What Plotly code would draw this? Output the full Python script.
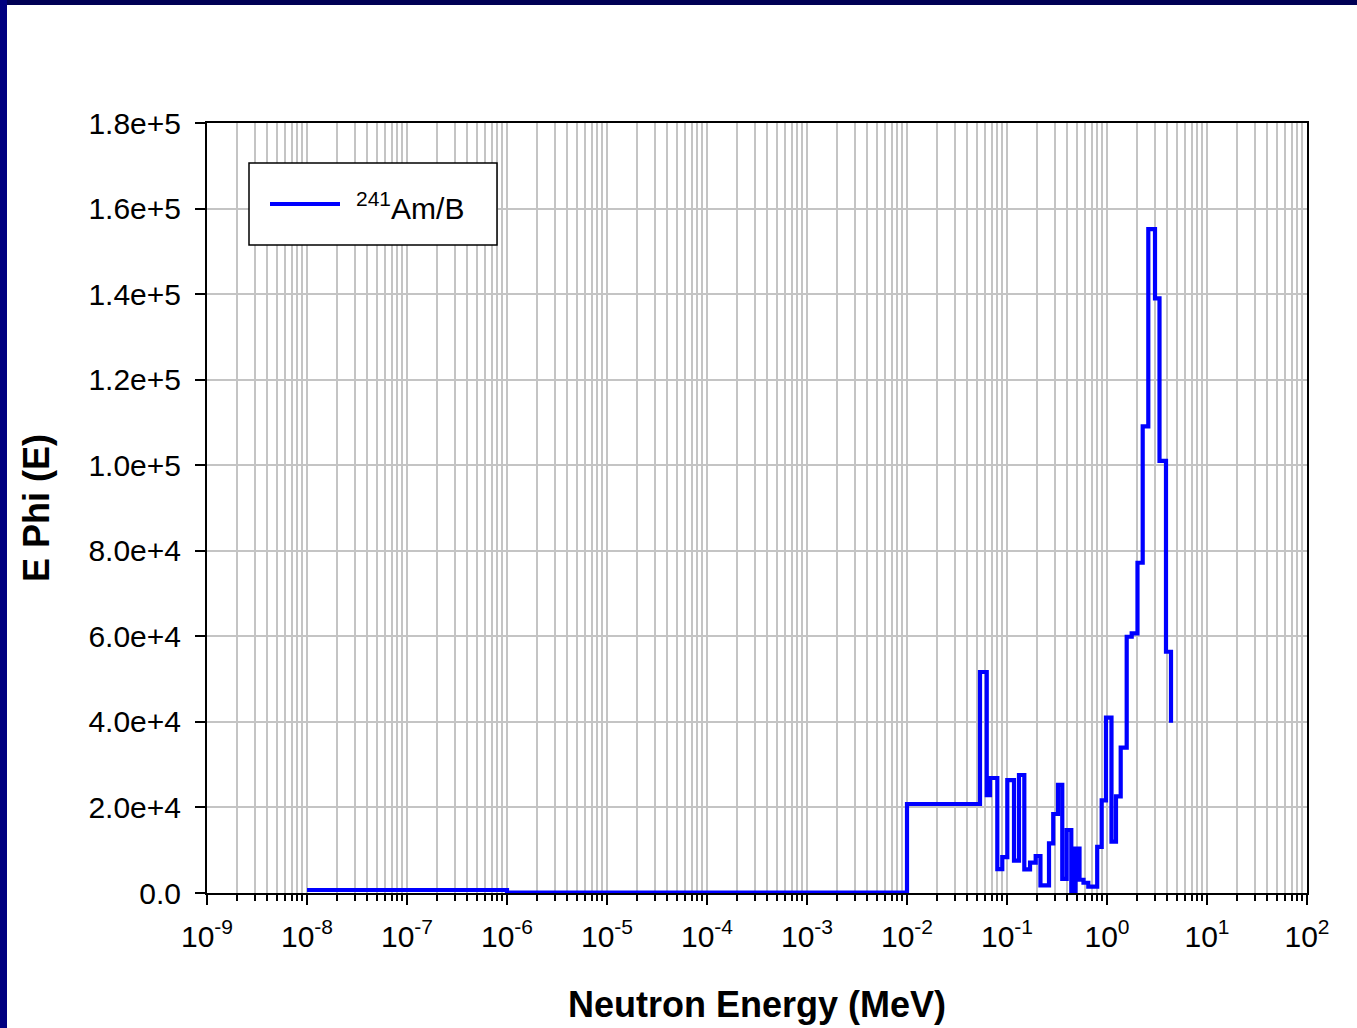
import plotly.graph_objects as go

# ---- data ----
energy_mev = [1e-8, 1e-6, 1e-2, 0.0537, 0.0627, 0.0676, 0.0800, 0.0897, 0.1007,
              0.1175, 0.1318, 0.149, 0.170, 0.1936, 0.216, 0.263, 0.290, 0.3236,
              0.357, 0.395, 0.4395, 0.484, 0.531, 0.582, 0.650, 0.798, 0.885,
              0.977, 1.109, 1.230, 1.371, 1.574, 1.766, 2.018, 2.275, 2.588,
              3.020, 3.350, 3.890, 4.365]
ephi = [700, 100, 20800, 51660, 22900, 26880, 5600, 8400, 26400,
        7550, 27580, 5540, 7090, 8650, 1800, 11600, 18470, 25300,
        3300, 14730, 400, 10400, 3100, 2400, 1470, 10800, 21650,
        41000, 12000, 22600, 34000, 59900, 60700, 77200, 109100, 155200,
        139000, 101000, 56400, 39800]
series_name = "<sup>241</sup>Am/B"

x_tickvals = [1e-9, 1e-8, 1e-7, 1e-6, 1e-5, 1e-4, 1e-3, 1e-2, 1e-1, 1e0, 1e1, 1e2]
x_ticktext = ["10<sup>-9</sup>", "10<sup>-8</sup>", "10<sup>-7</sup>", "10<sup>-6</sup>",
              "10<sup>-5</sup>", "10<sup>-4</sup>", "10<sup>-3</sup>", "10<sup>-2</sup>",
              "10<sup>-1</sup>", "10<sup>0</sup>", "10<sup>1</sup>", "10<sup>2</sup>"]
y_tickvals = [0, 20000, 40000, 60000, 80000, 100000, 120000, 140000, 160000, 180000]
y_ticktext = ["0.0", "2.0e+4", "4.0e+4", "6.0e+4", "8.0e+4", "1.0e+5",
              "1.2e+5", "1.4e+5", "1.6e+5", "1.8e+5"]

# ---- layout geometry ----
W, H = 1357, 1028
L, R, T, B = 207, 50, 123, 135
PW, PH = W - L - R, H - T - B


def px(xp):
    return (xp - L) / PW


def py(yp):
    return (H - B - yp) / PH


minor_vals = [k * 10.0 ** d for d in range(-9, 2) for k in range(2, 10)]

FONT = "Arial, Liberation Sans, sans-serif"
GRID = "#c4c4c4"
TICK_SIZE = 30
TITLE_SIZE = 36
LINE_W = 4.2

fig = go.Figure()
fig.add_trace(go.Scatter(
    x=energy_mev, y=ephi, mode="lines", line=dict(color="#0000ff", width=LINE_W, shape="hv"),
    name=series_name, showlegend=False, cliponaxis=False,
))

fig.update_layout(
    width=W, height=H,
    margin=dict(l=L, r=R, t=T, b=B, autoexpand=False),
    paper_bgcolor="white", plot_bgcolor="white",
    font=dict(family=FONT, color="black", size=TICK_SIZE),
    xaxis=dict(
        type="log", range=[-9, 2], automargin=False,
        tickmode="array", tickvals=x_tickvals, ticktext=x_ticktext,
        ticks="outside", ticklen=10, tickwidth=2, tickcolor="black",
        showline=True, linecolor="black", linewidth=2, mirror=True,
        showgrid=True, gridcolor=GRID, gridwidth=2,
        minor=dict(tickmode="array", tickvals=minor_vals, ticks="outside", ticklen=6,
                   tickwidth=2, tickcolor="black", showgrid=True, gridcolor=GRID, gridwidth=2),
        tickfont=dict(size=TICK_SIZE, family=FONT), ticklabelstandoff=6,
        title=dict(text="<b>Neutron Energy (MeV)</b>", font=dict(size=TITLE_SIZE, family=FONT),
                   standoff=40),
        layer="below traces", zeroline=False,
    ),
    yaxis=dict(
        range=[0, 180000], automargin=False,
        tickmode="array", tickvals=y_tickvals, ticktext=y_ticktext,
        ticks="outside", ticklen=10, tickwidth=2, tickcolor="black",
        showline=True, linecolor="black", linewidth=2, mirror=True,
        showgrid=True, gridcolor=GRID, gridwidth=2,
        tickfont=dict(size=TICK_SIZE, family=FONT), ticklabelstandoff=8,
        title=dict(text="<b>E Phi (E)</b>", font=dict(size=TITLE_SIZE, family=FONT), standoff=28),
        layer="below traces", zeroline=False,
    ),
)

# navy slide frame (top and left)
fig.add_shape(type="rect", xref="paper", yref="paper", x0=px(0), x1=px(W), y0=py(5), y1=py(0),
              fillcolor="#000055", line=dict(width=0), layer="above")
fig.add_shape(type="rect", xref="paper", yref="paper", x0=px(0), x1=px(7), y0=py(H), y1=py(0),
              fillcolor="#000080", line=dict(width=0), layer="above")

# legend box
fig.add_shape(type="rect", xref="paper", yref="paper", x0=px(249), x1=px(497), y0=py(245), y1=py(163),
              fillcolor="white", line=dict(color="black", width=1.5), layer="above")
fig.add_shape(type="line", xref="paper", yref="paper", x0=px(270), x1=px(340), y0=py(204), y1=py(204),
              line=dict(color="#0000ff", width=LINE_W), layer="above")
fig.add_annotation(xref="paper", yref="paper", x=px(354), y=py(206), xanchor="left", yanchor="middle",
                   text=series_name, showarrow=False, font=dict(size=TICK_SIZE, family=FONT, color="black"))

fig.write_html("out.html")
